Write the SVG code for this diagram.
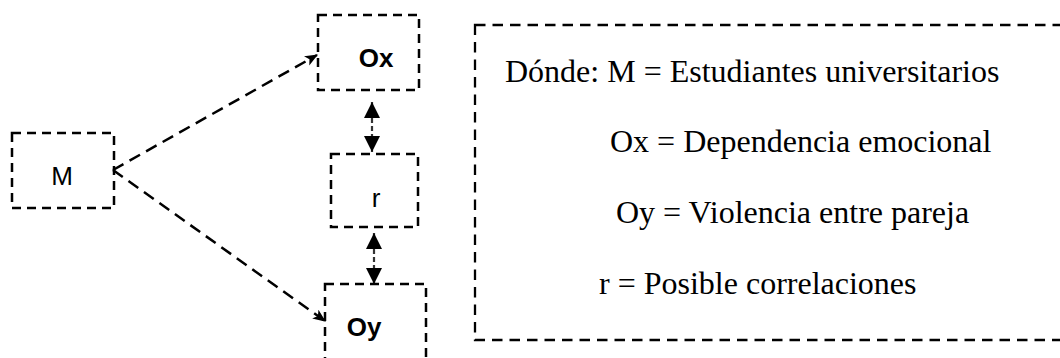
<svg xmlns="http://www.w3.org/2000/svg" width="1060" height="358" viewBox="0 0 1060 358">
  <style>
    .box { fill: none; stroke: #000; stroke-width: 2.5; stroke-dasharray: 9 6; }
    .legend { fill: none; stroke: #000; stroke-width: 2.3; stroke-dasharray: 10.5 7; }
    .lbl { font-family: "Liberation Sans", Arial, sans-serif; font-size: 26px; fill: #000; text-anchor: middle; }
    .bold { font-weight: bold; font-size: 26px; }
    .txt { font-family: "Liberation Serif", "Times New Roman", serif; font-size: 32px; fill: #000; }
    .conn { fill: none; stroke: #000; stroke-width: 2.5; stroke-dasharray: 12 7; }
    .vconn { fill: none; stroke: #333; stroke-width: 2.2; stroke-dasharray: 5 3; }
  </style>
  <defs>
    <marker id="classic" viewBox="0 0 12 10" refX="11" refY="5" markerWidth="13" markerHeight="11" markerUnits="userSpaceOnUse" orient="auto">
      <path d="M0,0 L12,5 L0,10 L3,5 Z" fill="#000"/>
    </marker>
    <marker id="block" viewBox="0 0 16 16" refX="16" refY="8" markerWidth="16" markerHeight="18" markerUnits="userSpaceOnUse" orient="auto-start-reverse">
      <path d="M0,0 L16,8 L0,16 Z" fill="#000"/>
    </marker>
  </defs>
  <rect width="1060" height="358" fill="#fff"/>

  <g id="connectors">
    <line class="conn" x1="113" y1="170" x2="317" y2="55" marker-end="url(#classic)"/>
    <line class="conn" x1="113" y1="170" x2="325" y2="321" marker-end="url(#classic)"/>
    <line class="vconn" x1="372" y1="102" x2="372" y2="152" marker-start="url(#block)" marker-end="url(#block)"/>
    <line class="vconn" x1="374" y1="233" x2="374" y2="284" marker-start="url(#block)" marker-end="url(#block)"/>
  </g>

  <g id="node-M">
    <rect class="box" x="12" y="133" width="102" height="75"/>
    <text class="lbl" x="62" y="185">M</text>
  </g>
  <g id="node-Ox">
    <rect class="box" x="318" y="15" width="101" height="75"/>
    <text class="lbl bold" x="376" y="67">Ox</text>
  </g>
  <g id="node-r">
    <rect class="box" x="331" y="154" width="87" height="73"/>
    <text class="lbl" x="376" y="207">r</text>
  </g>
  <g id="node-Oy">
    <rect class="box" x="325" y="284" width="101" height="90"/>
    <text class="lbl bold" x="364" y="336">Oy</text>
  </g>
  <g id="legend">
    <rect class="legend" x="475" y="25" width="600" height="315"/>
    <text class="txt" x="505" y="81.5">Dónde: M = Estudiantes universitarios</text>
    <text class="txt" x="610" y="152">Ox = Dependencia emocional</text>
    <text class="txt" x="616" y="222.5">Oy = Violencia entre pareja</text>
    <text class="txt" x="599" y="293.5">r = Posible correlaciones</text>
  </g>
</svg>
